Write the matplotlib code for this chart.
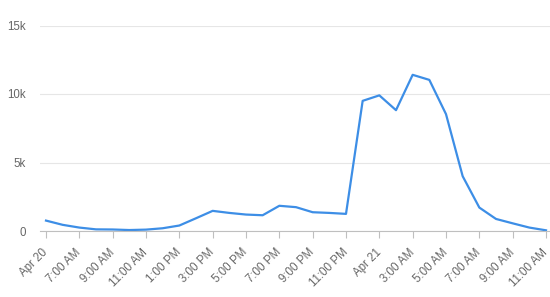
import matplotlib.pyplot as plt
from matplotlib.ticker import FuncFormatter

# hourly counts, Apr 20 -> Apr 21
hours = list(range(31))
counts = [760, 450, 250, 120, 110, 70, 100, 200, 400, 930,
          1470, 1320, 1200, 1150, 1840, 1740, 1370, 1320, 1250, 9500,
          9900, 8820, 11400, 11030, 8530, 4000, 1710, 880, 560, 250, 50]
tick_pos = list(range(0, 31, 2))
tick_labels = ["Apr 20", "7:00 AM", "9:00 AM", "11:00 AM", "1:00 PM", "3:00 PM",
               "5:00 PM", "7:00 PM", "9:00 PM", "11:00 PM", "Apr 21", "3:00 AM",
               "5:00 AM", "7:00 AM", "9:00 AM", "11:00 AM"]
y_ticks = [0, 5000, 10000, 15000]

plt.rcParams["font.family"] = ["Liberation Sans", "DejaVu Sans"]

fig = plt.figure(figsize=(5.5, 2.97), dpi=100)
ax = fig.add_axes([40 / 550, 1 - 231 / 297, 510 / 550, (231 - 25.5) / 297])

ax.plot(hours, counts, color="#3d8ee6", linewidth=1.6, solid_joinstyle="round")

ax.set_xlim(-0.36, 30.24)
ax.set_ylim(0, 15000)
ax.set_yticks(y_ticks)
ax.yaxis.set_major_formatter(FuncFormatter(lambda v, _: "0" if v == 0 else f"{int(v / 1000)}k"))
ax.grid(axis="y", color="#e6e6e6", linewidth=0.8)
ax.set_axisbelow(True)

ax.set_xticks(tick_pos)
ax.set_xticklabels(tick_labels, rotation=45, ha="right", va="center", rotation_mode="anchor")

for s in ["top", "right", "left"]:
    ax.spines[s].set_visible(False)
ax.spines["bottom"].set_color("#bfbfbf")
ax.tick_params(axis="x", length=5, color="#bfbfbf", labelsize=8.3, labelcolor="#666666", pad=9)
ax.tick_params(axis="y", length=0, labelsize=8.3, labelcolor="#666666", pad=10)

fig.savefig("out.png", dpi=100)
